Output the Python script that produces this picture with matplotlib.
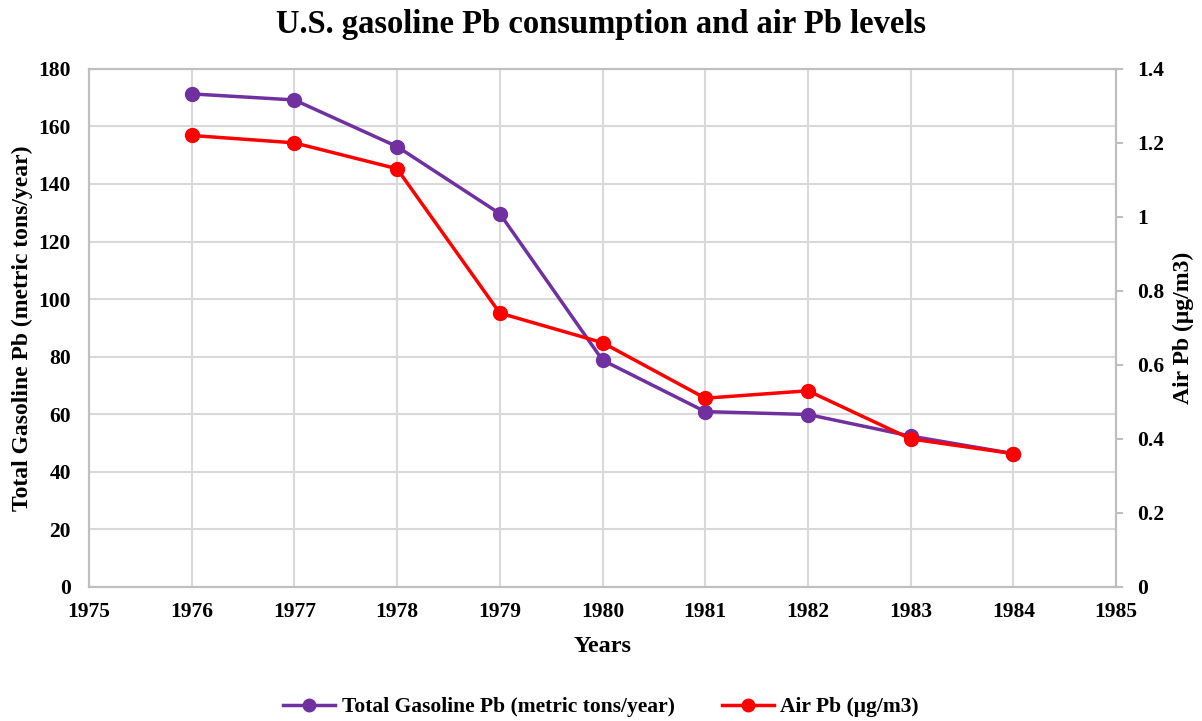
import numpy as np
import matplotlib.pyplot as plt

years = [1976, 1977, 1978, 1979, 1980, 1981, 1982, 1983, 1984]
gasoline_pb = [171.3, 169.2, 153.0, 129.7, 78.8, 60.9, 59.9, 52.4, 46.3]
air_pb = [1.22, 1.20, 1.13, 0.74, 0.66, 0.51, 0.53, 0.40, 0.36]

plt.rcParams['font.family'] = ['Liberation Serif', 'DejaVu Serif']
plt.rcParams['font.weight'] = 'bold'

purple = '#7030a0'
red = '#ff0000'
gray = '#bfbfbf'

fig = plt.figure(figsize=(12.02, 7.21), dpi=100)
ax = fig.add_axes([0.074, 0.186, 0.8545, 0.7185])
ax2 = ax.twinx()

l1, = ax.plot(years, gasoline_pb, color=purple, lw=2.5, marker='o', ms=10,
              label='Total Gasoline Pb (metric tons/year)')
l2, = ax2.plot(years, air_pb, color=red, lw=2.5, marker='o', ms=10,
               label='Air Pb (μg/m3)')

ax.set_xlim(1975, 1985)
ax.set_ylim(0, 180)
ax2.set_ylim(0, 1.4)
ax.set_xticks(np.arange(1975, 1986, 1))
ax.set_yticks(np.arange(0, 181, 20))
ax2.set_yticks(np.arange(0, 1.41, 0.2))
ax2.set_yticklabels(['0', '0.2', '0.4', '0.6', '0.8', '1', '1.2', '1.4'])

ax.grid(True, color='#d9d9d9', lw=1.5)
ax.set_axisbelow(True)
for a in (ax, ax2):
    for s in a.spines.values():
        s.set_color(gray)
        s.set_linewidth(1.5)
ax.tick_params(axis='y', length=0, labelsize=15.5, pad=13)
ax.tick_params(axis='x', length=0, labelsize=15.5, pad=11)
ax2.tick_params(axis='y', length=5, color=gray, width=1.5, labelsize=15.5, pad=10)

ax.set_xlabel('Years', fontsize=17.5, fontweight='bold', labelpad=10)
ax.set_ylabel('Total Gasoline Pb (metric tons/year)', fontsize=17, fontweight='bold', labelpad=4)
ax2.set_ylabel('Air Pb (μg/m3)', fontsize=17, fontweight='bold', labelpad=6)

fig.suptitle('U.S. gasoline Pb consumption and air Pb levels', fontsize=23.5,
             fontweight='bold', y=0.987)

fig.legend(handles=[l1, l2], loc='lower center', bbox_to_anchor=(0.5, -0.022),
           ncol=2, frameon=False, fontsize=15.5, handlelength=2.4, handletextpad=0.3,
           columnspacing=2.2, markerscale=0.9)

fig.savefig('out.png', dpi=100)
